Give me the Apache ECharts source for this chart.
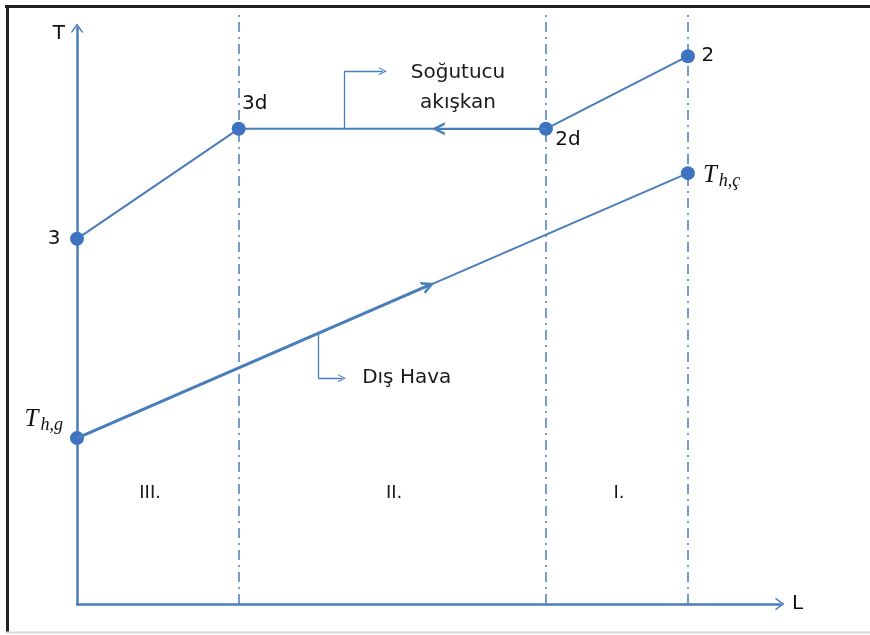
<!DOCTYPE html>
<html>
<head>
<meta charset="utf-8">
<script src="https://cdn.jsdelivr.net/npm/echarts@6/dist/echarts.min.js"></script>
<style>
  html, body { margin: 0; padding: 0; background: #fff; }
  #chart { width: 870px; height: 635px; }
</style>
</head>
<body>
<div id="chart"></div>
<script>
// refrigerant: 3 -> 3d -> 2d -> 2  (L, T in arbitrary units 0..100)
const refrigerant = [[0, 63.4], [23.0, 82.5], [66.7, 82.5], [86.9, 95.1]]
const refrigerantNames = ['3', '3d', '2d', '2']
// outside air: Th,g -> Th,ç
const air = [[0, 28.8], [86.9, 74.8]]
const zoneBounds = [23.0, 66.7, 86.9]
const zoneTop = 102.5
const zoneLabels = [[10.4, 19.3, 'III.'], [45.1, 19.3, 'II.'], [77.1, 19.3, 'I.']]
// flow direction arrows sitting on the two lines
const flowArrowAir = [50.0, 55.3]
const flowArrowRef = [51.4, 82.5]
// leader lines to the notes
const leaderRef = [[38.0, 82.5], [38.0, 92.5], [43.5, 92.5]]
const leaderAir = [[34.3, 47.0], [34.3, 39.2], [37.7, 39.2]]
const notes = [[54.2, 89.6, 'Soğutucu\nakışkan'], [46.9, 39.2, 'Dış Hava']]

const lineColor = '#4a7ebb'
const dotColor = '#3d73c1'
const textFont = 'DejaVu Sans'
const chevron = 'path://M0,9 L6.5,0 L13,9 L11.2,9 L6.5,2.6 L1.8,9 Z'
const chevronBold = 'path://M0,10 L7,0 L14,10 L11,10 L7,4.2 L3,10 Z'

let myChart = echarts.init(document.getElementById('chart'))

const refLabels = [
  { position: 'inside', offset: [-23, 0] },
  { position: 'inside', offset: [16, -25] },
  { position: 'inside', offset: [22, 11] },
  { position: 'inside', offset: [20, 0] }
]

myChart.setOption({
  animation: false,
  backgroundColor: '#fff',
  grid: {
    left: 77,
    right: 90,
    top: 28,
    bottom: 31
  },
  xAxis: {
    type: 'value',
    min: 0,
    max: 100,
    name: 'L',
    nameLocation: 'end',
    nameGap: 12,
    nameTextStyle: { color: '#111', fontSize: 20, fontFamily: textFont, verticalAlign: 'middle', padding: [4, 0, 0, 0] },
    axisLine: {
      lineStyle: { color: lineColor, width: 2.5 },
      symbol: ['none', chevron],
      symbolSize: [13, 9]
    },
    axisTick: { show: false },
    axisLabel: { show: false },
    splitLine: { show: false }
  },
  yAxis: {
    type: 'value',
    min: 0,
    max: 100,
    name: 'T',
    nameLocation: 'end',
    nameGap: -6,
    nameTextStyle: { color: '#111', fontSize: 20, fontFamily: textFont, align: 'right', verticalAlign: 'middle', padding: [0, 12, 0, 0] },
    axisLine: {
      lineStyle: { color: lineColor, width: 2.5 },
      symbol: ['none', chevron],
      symbolSize: [13, 9]
    },
    axisTick: { show: false },
    axisLabel: { show: false },
    splitLine: { show: false }
  },
  graphic: [
    { type: 'line', shape: { x1: 5, y1: 6.5, x2: 870, y2: 6.5 }, style: { stroke: '#222', lineWidth: 3 } },
    { type: 'line', shape: { x1: 7.5, y1: 5, x2: 7.5, y2: 632 }, style: { stroke: '#222', lineWidth: 3 } },
    { type: 'line', shape: { x1: 6, y1: 632.5, x2: 870, y2: 632.5 }, style: { stroke: '#d8d8d8', lineWidth: 2 } }
  ],
  series: [
    // zone boundaries (dash-dot)
    {
      type: 'lines',
      coordinateSystem: 'cartesian2d',
      silent: true,
      clip: false,
      z: 1,
      lineStyle: { color: lineColor, width: 1.5, opacity: 1, type: [10, 5, 2, 5] },
      data: zoneBounds.map(x => ({ coords: [[x, 0], [x, zoneTop]] }))
    },
    // outside air line
    {
      type: 'line',
      silent: true,
      z: 3,
      symbol: 'circle',
      symbolSize: 14,
      itemStyle: { color: dotColor },
      lineStyle: { color: lineColor, width: 2 },
      label: {
        show: true,
        formatter: p => p.dataIndex === 0 ? '{t|T}{s|h,g}' : '{t|T}{s|h,ç}',
        rich: {
          t: { fontFamily: 'Liberation Serif', fontStyle: 'italic', fontSize: 25, color: '#111' },
          s: { fontFamily: 'Liberation Serif', fontStyle: 'italic', fontSize: 18, color: '#111', padding: [13, 0, 0, 2] }
        }
      },
      data: [
        { value: air[0], label: { position: 'left', distance: 3, offset: [-4, -19] } },
        { value: air[1], label: { position: 'right', distance: 8, offset: [0, 2] } }
      ]
    },
    // refrigerant line
    {
      type: 'line',
      silent: true,
      z: 3,
      symbol: 'circle',
      symbolSize: 14,
      itemStyle: { color: dotColor },
      lineStyle: { color: lineColor, width: 2 },
      label: {
        show: true,
        color: '#111',
        fontSize: 20,
        fontFamily: textFont,
        formatter: p => refrigerantNames[p.dataIndex]
      },
      data: refrigerant.map((v, i) => ({ value: v, label: refLabels[i] }))
    },
    // flow arrows
    {
      type: 'lines',
      coordinateSystem: 'cartesian2d',
      silent: true,
      z: 4,
      symbol: ['none', chevronBold],
      symbolSize: [18, 13],
      lineStyle: { color: lineColor, width: 3, opacity: 1 },
      data: [
        { coords: [air[0], flowArrowAir] },
        { coords: [refrigerant[2], flowArrowRef], lineStyle: { width: 2 } }
      ]
    },
    // leader lines (vertical legs)
    {
      type: 'lines',
      coordinateSystem: 'cartesian2d',
      silent: true,
      z: 2,
      lineStyle: { color: lineColor, width: 1.3, opacity: 1 },
      data: [
        { coords: [leaderRef[0], leaderRef[1]] },
        { coords: [leaderAir[0], leaderAir[1]] }
      ]
    },
    // leader lines (horizontal legs with arrow)
    {
      type: 'lines',
      coordinateSystem: 'cartesian2d',
      silent: true,
      z: 2,
      symbol: ['none', chevron],
      symbolSize: [11, 8],
      lineStyle: { color: lineColor, width: 1.3, opacity: 1 },
      data: [
        { coords: [leaderRef[1], leaderRef[2]] },
        { coords: [leaderAir[1], leaderAir[2]] }
      ]
    },
    // notes
    {
      type: 'scatter',
      silent: true,
      symbolSize: 0,
      itemStyle: { opacity: 1 },
      label: {
        show: true,
        position: 'inside',
        color: '#1a1a1a',
        fontSize: 20,
        lineHeight: 30,
        fontFamily: textFont,
        formatter: p => p.value[2]
      },
      data: notes
    },
    // zone names
    {
      type: 'scatter',
      silent: true,
      symbolSize: 0,
      itemStyle: { opacity: 1 },
      label: {
        show: true,
        position: 'inside',
        color: '#1a1a1a',
        fontSize: 18,
        fontFamily: textFont,
        formatter: p => p.value[2]
      },
      data: zoneLabels
    }
  ]
})
</script>
</body>
</html>
